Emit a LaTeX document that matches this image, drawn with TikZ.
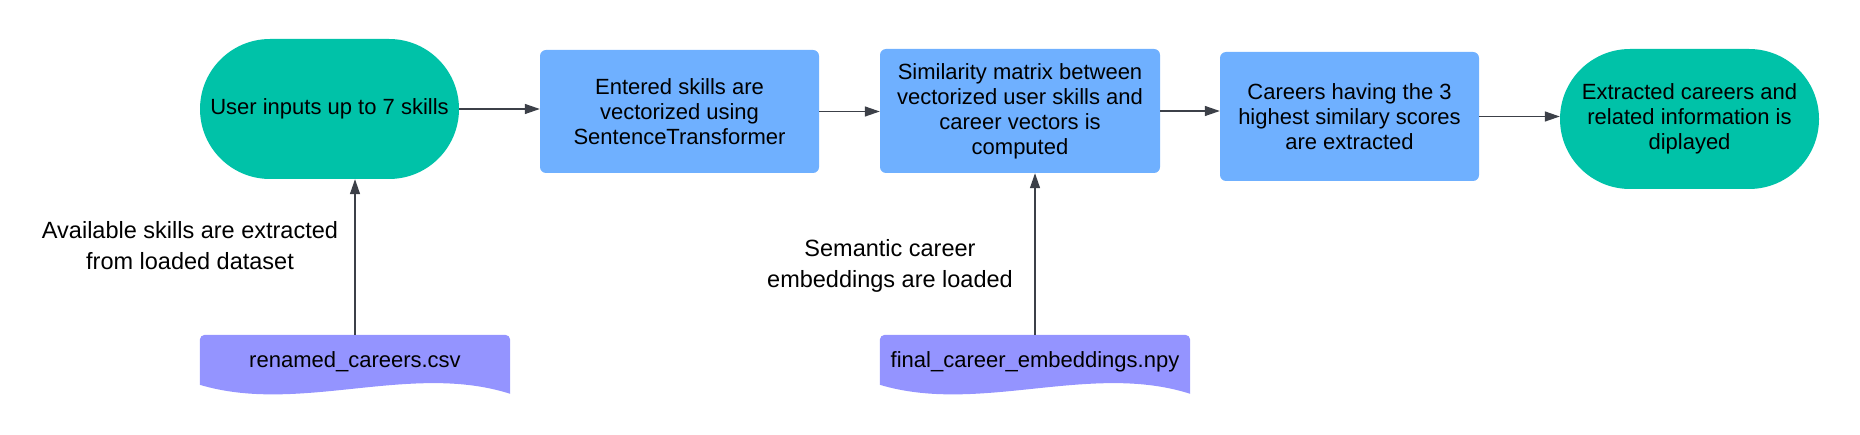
\documentclass[tikz,border=0pt]{standalone}
\usepackage{fontspec}
\setmainfont{Liberation Sans}
\usetikzlibrary{shapes.misc,arrows.meta,calc,backgrounds}
\definecolor{tealfill}{RGB}{0,194,168}
\definecolor{bluefill}{RGB}{111,176,255}
\definecolor{purpfill}{RGB}{148,148,255}
\definecolor{arrcol}{RGB}{60,64,72}
\begin{document}
\begin{tikzpicture}[x=1pt,y=-1pt,
  stad/.style={rounded rectangle, fill=tealfill, minimum width=259pt, minimum height=140pt, inner sep=0pt, align=center, font=\fontsize{22}{25}\selectfont},
  procbox/.style={rectangle, rounded corners=6pt, fill=bluefill, inner sep=0pt, align=center, font=\fontsize{22}{25}\selectfont},
  docnode/.style={rectangle, minimum width=310pt, minimum height=54pt, inner sep=0pt, font=\fontsize{22}{25}\selectfont},
  docshape/.style={fill=purpfill},
  lbl/.style={align=center, inner sep=0pt, font=\fontsize{23.5}{31}\selectfont},
  conn/.style={draw=arrcol, line width=1.3pt, -{Triangle[length=15pt,width=10pt]}}]
\useasboundingbox (0,0) rectangle (1860,435);

\node[stad] (s1) at (329.5,109) {User inputs up to 7 skills};
\node[procbox, minimum width=279pt, minimum height=123pt] (b2) at (679.5,111.5) {Entered skills are\\vectorized using\\SentenceTransformer};
\node[procbox, minimum width=280pt, minimum height=124pt] (b3) at (1020,111) {Similarity matrix between\\vectorized user skills and\\career vectors is\\computed};
\node[procbox, minimum width=259pt, minimum height=129pt] (b4) at (1349.5,116.5) {Careers having the 3\\highest similary scores\\are extracted};
\node[stad] (s5) at (1689.5,119) {Extracted careers and\\related information is\\diplayed};

\node[docnode] (csv) at (355,362) {renamed\_careers.csv};
\node[docnode] (npy) at (1035,362) {final\_career\_embeddings.npy};

\begin{scope}[on background layer]
\foreach \d in {csv,npy}{
  \fill[docshape] ($(\d.north west)+(0,50)$) [rounded corners=5pt] -- (\d.north west) -- (\d.north east) [sharp corners] -- ($(\d.north east)+(0,59)$) .. controls ($(\d.north east)+(-100,27)$) and ($(\d.north west)+(100,80)$) .. ($(\d.north west)+(0,50)$) -- cycle;
}
\end{scope}

\node[lbl] (l1) at (190,245.5) {Available skills are extracted\\from loaded dataset};
\node[lbl] (l2) at (890,266) {Semantic career\\embeddings are loaded};

\draw[conn] (s1.east) -- (s1.east -| b2.west);
\draw[conn] (b2.east) -- (b2.east -| b3.west);
\draw[conn] (b3.east) -- (b3.east -| b4.west);
\draw[conn] (b4.east) -- (b4.east -| s5.west);
\draw[conn] (csv.north) -- (csv.north |- s1.south);
\draw[conn] (npy.north) -- (npy.north |- b3.south);
\end{tikzpicture}
\end{document}
